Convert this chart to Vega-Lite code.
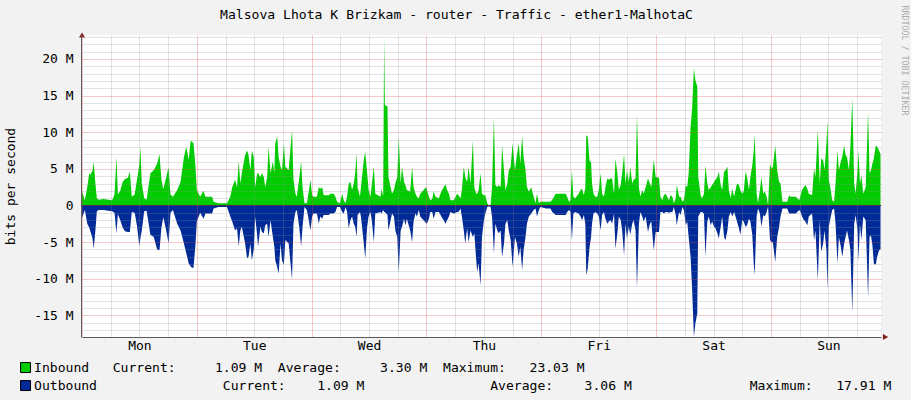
{
  "$schema": "https://vega.github.io/schema/vega-lite/v6.json",
  "width": 799,
  "height": 302,
  "autosize": {"type": "none"},
  "padding": {"left": 82, "top": 35, "right": 30, "bottom": 63},
  "background": "#F2F2F2",
  "config": {
    "view": {"fill": "#FFFFFF", "stroke": null},
    "font": "DejaVu Sans Mono",
    "axis": {"labelFont": "DejaVu Sans Mono", "titleFont": "DejaVu Sans Mono", "labelFontSize": 13, "labelColor": "#000000", "titleColor": "#000000", "titleFontWeight": "normal"}
  },
  "resolve": {"axis": {"x": "independent", "y": "independent"}},
  "layer": [
    {
      "data": {"values": [
        {"h":0,"Inbound":1.9,"Outbound":-1.7},{"h":0.6,"Inbound":0.7,"Outbound":-0.6},{"h":1.1,"Inbound":2.5,"Outbound":-2.5},{"h":1.5,"Inbound":4.4,"Outbound":-3.0},{"h":1.8,"Inbound":4.2,"Outbound":-3.6},{"h":2.2,"Inbound":4.8,"Outbound":-4.5},{"h":2.45,"Inbound":5.9,"Outbound":-5.9},{"h":2.8,"Inbound":3.0,"Outbound":-3.4},{"h":3.1,"Inbound":1.0,"Outbound":-0.8},{"h":3.5,"Inbound":0.8,"Outbound":-0.6},{"h":4.5,"Inbound":0.9,"Outbound":-0.6},{"h":5.5,"Inbound":0.8,"Outbound":-0.7},{"h":6.3,"Inbound":0.7,"Outbound":-0.8},{"h":6.8,"Inbound":1.5,"Outbound":-1.0},{"h":7.2,"Inbound":6.6,"Outbound":-3.8},{"h":7.5,"Inbound":1.5,"Outbound":-1.2},{"h":8.0,"Inbound":2.0,"Outbound":-2.0},{"h":8.5,"Inbound":3.2,"Outbound":-3.0},{"h":9.0,"Inbound":3.6,"Outbound":-3.5},{"h":9.6,"Inbound":3.8,"Outbound":-3.6},{"h":10.0,"Inbound":4.6,"Outbound":-3.6},{"h":10.4,"Inbound":1.2,"Outbound":-0.9},{"h":11.0,"Inbound":1.5,"Outbound":-1.0},{"h":11.5,"Inbound":3.5,"Outbound":-2.8},{"h":12.0,"Inbound":5.7,"Outbound":-5.6},{"h":12.2,"Inbound":8.0,"Outbound":-4.5},{"h":12.5,"Inbound":3.0,"Outbound":-3.4},{"h":13.0,"Inbound":1.0,"Outbound":-0.8},{"h":13.5,"Inbound":0.8,"Outbound":-0.7},{"h":14.3,"Inbound":4.4,"Outbound":-4.0},{"h":15.0,"Inbound":4.8,"Outbound":-4.3},{"h":15.7,"Inbound":5.7,"Outbound":-6.0},{"h":16.2,"Inbound":7.0,"Outbound":-6.1},{"h":16.6,"Inbound":3.5,"Outbound":-3.0},{"h":17.0,"Inbound":2.2,"Outbound":-1.6},{"h":17.6,"Inbound":3.9,"Outbound":-3.4},{"h":18.1,"Inbound":5.2,"Outbound":-5.2},{"h":18.5,"Inbound":1.5,"Outbound":-1.0},{"h":19.0,"Inbound":1.2,"Outbound":-0.6},{"h":19.9,"Inbound":2.1,"Outbound":-2.5},{"h":20.6,"Inbound":3.2,"Outbound":-3.4},{"h":21.3,"Inbound":6.6,"Outbound":-5.2},{"h":21.8,"Inbound":8.0,"Outbound":-6.5},{"h":22.3,"Inbound":6.2,"Outbound":-7.9},{"h":22.7,"Inbound":8.8,"Outbound":-8.3},{"h":23.0,"Inbound":8.7,"Outbound":-8.5},{"h":23.3,"Inbound":8.5,"Outbound":-8.5},{"h":23.7,"Inbound":5.5,"Outbound":-5.5},{"h":24.0,"Inbound":2.1,"Outbound":-2.2},{"h":24.7,"Inbound":1.2,"Outbound":-1.0},{"h":25.4,"Inbound":2.0,"Outbound":-1.8},{"h":25.8,"Inbound":1.2,"Outbound":-1.1},{"h":27.2,"Inbound":1.2,"Outbound":-1.1},{"h":27.5,"Inbound":0.5,"Outbound":-0.4},{"h":28.5,"Inbound":0.3,"Outbound":-0.2},{"h":30.3,"Inbound":0.3,"Outbound":-0.2},{"h":31.0,"Inbound":1.2,"Outbound":-1.5},{"h":31.4,"Inbound":2.5,"Outbound":-2.2},{"h":32.0,"Inbound":3.5,"Outbound":-3.4},{"h":32.4,"Inbound":2.5,"Outbound":-3.1},{"h":32.75,"Inbound":6.0,"Outbound":-5.6},{"h":33.1,"Inbound":3.0,"Outbound":-3.4},{"h":33.4,"Inbound":4.4,"Outbound":-2.9},{"h":34.1,"Inbound":6.9,"Outbound":-5.2},{"h":34.5,"Inbound":7.5,"Outbound":-7.2},{"h":34.8,"Inbound":6.9,"Outbound":-7.0},{"h":35.2,"Inbound":4.8,"Outbound":-5.2},{"h":35.5,"Inbound":7.5,"Outbound":-7.5},{"h":35.9,"Inbound":6.6,"Outbound":-6.0},{"h":36.2,"Inbound":2.5,"Outbound":-1.5},{"h":36.6,"Inbound":4.4,"Outbound":-4.0},{"h":36.8,"Inbound":4.4,"Outbound":-5.6},{"h":37.3,"Inbound":3.9,"Outbound":-2.9},{"h":37.6,"Inbound":4.4,"Outbound":-3.6},{"h":38.0,"Inbound":3.9,"Outbound":-3.8},{"h":38.3,"Inbound":2.5,"Outbound":-2.7},{"h":38.7,"Inbound":3.9,"Outbound":-2.5},{"h":39.0,"Inbound":8.0,"Outbound":-4.3},{"h":39.4,"Inbound":4.4,"Outbound":-2.0},{"h":39.9,"Inbound":6.0,"Outbound":-4.3},{"h":40.2,"Inbound":4.4,"Outbound":-5.6},{"h":40.4,"Inbound":8.5,"Outbound":-7.5},{"h":40.8,"Inbound":9.4,"Outbound":-8.4},{"h":41.1,"Inbound":6.6,"Outbound":-9.3},{"h":41.5,"Inbound":5.3,"Outbound":-5.2},{"h":41.8,"Inbound":4.8,"Outbound":-7.5},{"h":42.2,"Inbound":8.5,"Outbound":-8.1},{"h":42.5,"Inbound":5.3,"Outbound":-4.7},{"h":43.2,"Inbound":4.8,"Outbound":-5.2},{"h":43.9,"Inbound":10.3,"Outbound":-10.1},{"h":44.2,"Inbound":3.5,"Outbound":-2.5},{"h":44.6,"Inbound":1.6,"Outbound":-0.9},{"h":44.9,"Inbound":1.2,"Outbound":-0.6},{"h":45.4,"Inbound":3.7,"Outbound":-2.9},{"h":45.8,"Inbound":6.0,"Outbound":-5.6},{"h":46.1,"Inbound":2.5,"Outbound":-2.9},{"h":46.5,"Inbound":0.3,"Outbound":-0.2},{"h":47.0,"Inbound":0.3,"Outbound":-0.6},{"h":47.4,"Inbound":1.9,"Outbound":-2.0},{"h":47.75,"Inbound":3.5,"Outbound":-3.4},{"h":48.1,"Inbound":1.4,"Outbound":-1.5},{"h":48.4,"Inbound":1.2,"Outbound":-1.1},{"h":49.1,"Inbound":1.2,"Outbound":-1.1},{"h":49.5,"Inbound":2.5,"Outbound":-2.5},{"h":49.8,"Inbound":2.3,"Outbound":-1.5},{"h":50.2,"Inbound":2.5,"Outbound":-1.8},{"h":50.5,"Inbound":1.4,"Outbound":-1.3},{"h":51.6,"Inbound":1.4,"Outbound":-1.3},{"h":51.9,"Inbound":1.6,"Outbound":-1.1},{"h":52.6,"Inbound":1.6,"Outbound":-1.1},{"h":52.97,"Inbound":1.2,"Outbound":-0.9},{"h":53.3,"Inbound":0.5,"Outbound":-0.2},{"h":53.9,"Inbound":0.3,"Outbound":-0.2},{"h":54.4,"Inbound":1.6,"Outbound":-0.9},{"h":54.7,"Inbound":0.7,"Outbound":-1.1},{"h":55.1,"Inbound":0.3,"Outbound":-0.2},{"h":55.4,"Inbound":1.2,"Outbound":-0.9},{"h":55.75,"Inbound":3.0,"Outbound":-3.1},{"h":56.1,"Inbound":3.2,"Outbound":-2.0},{"h":56.45,"Inbound":2.1,"Outbound":-1.5},{"h":56.8,"Inbound":3.0,"Outbound":-2.5},{"h":57.1,"Inbound":4.4,"Outbound":-2.9},{"h":57.4,"Inbound":7.1,"Outbound":-4.3},{"h":57.6,"Inbound":2.5,"Outbound":-1.3},{"h":58.1,"Inbound":1.2,"Outbound":-0.9},{"h":58.3,"Inbound":2.5,"Outbound":-1.5},{"h":58.9,"Inbound":6.2,"Outbound":-5.2},{"h":59.2,"Inbound":7.3,"Outbound":-7.2},{"h":59.6,"Inbound":4.4,"Outbound":-2.9},{"h":59.9,"Inbound":2.1,"Outbound":-1.5},{"h":60.3,"Inbound":1.2,"Outbound":-0.9},{"h":60.6,"Inbound":3.0,"Outbound":-2.2},{"h":61.0,"Inbound":5.3,"Outbound":-5.0},{"h":61.3,"Inbound":1.6,"Outbound":-1.1},{"h":62.4,"Inbound":1.2,"Outbound":-0.9},{"h":62.6,"Inbound":2.3,"Outbound":-1.1},{"h":62.95,"Inbound":1.2,"Outbound":-0.6},{"h":63.15,"Inbound":23.03,"Outbound":-0.9},{"h":63.3,"Inbound":13.7,"Outbound":-0.9},{"h":63.85,"Inbound":13.5,"Outbound":-1.3},{"h":64.05,"Inbound":3.9,"Outbound":-3.4},{"h":64.5,"Inbound":2.5,"Outbound":-2.0},{"h":64.8,"Inbound":1.6,"Outbound":-1.1},{"h":65.2,"Inbound":2.1,"Outbound":-1.5},{"h":65.5,"Inbound":3.0,"Outbound":-3.4},{"h":65.9,"Inbound":3.9,"Outbound":-4.3},{"h":66.2,"Inbound":9.4,"Outbound":-9.2},{"h":66.6,"Inbound":3.0,"Outbound":-3.4},{"h":66.9,"Inbound":5.3,"Outbound":-2.9},{"h":67.3,"Inbound":3.2,"Outbound":-1.8},{"h":67.6,"Inbound":2.8,"Outbound":-2.7},{"h":67.9,"Inbound":2.1,"Outbound":-1.8},{"h":68.6,"Inbound":1.9,"Outbound":-3.4},{"h":69.0,"Inbound":5.3,"Outbound":-5.0},{"h":69.3,"Inbound":2.5,"Outbound":-2.2},{"h":69.7,"Inbound":1.6,"Outbound":-1.1},{"h":70.0,"Inbound":1.2,"Outbound":-1.5},{"h":70.4,"Inbound":1.0,"Outbound":-0.6},{"h":70.7,"Inbound":1.6,"Outbound":-1.5},{"h":71.4,"Inbound":2.1,"Outbound":-2.0},{"h":71.9,"Inbound":2.5,"Outbound":-2.4},{"h":72.1,"Inbound":2.1,"Outbound":-2.5},{"h":72.5,"Inbound":1.2,"Outbound":-1.8},{"h":72.8,"Inbound":0.7,"Outbound":-0.9},{"h":73.2,"Inbound":0.9,"Outbound":-0.9},{"h":73.5,"Inbound":1.9,"Outbound":-1.8},{"h":73.9,"Inbound":1.2,"Outbound":-0.9},{"h":74.6,"Inbound":1.0,"Outbound":-0.9},{"h":75.1,"Inbound":1.9,"Outbound":-1.5},{"h":75.6,"Inbound":2.5,"Outbound":-2.0},{"h":76.0,"Inbound":2.9,"Outbound":-2.5},{"h":76.3,"Inbound":2.1,"Outbound":-2.0},{"h":76.7,"Inbound":1.6,"Outbound":-1.5},{"h":77.0,"Inbound":0.7,"Outbound":-0.9},{"h":77.7,"Inbound":0.7,"Outbound":-1.1},{"h":78.4,"Inbound":1.6,"Outbound":-0.9},{"h":78.7,"Inbound":1.4,"Outbound":-0.9},{"h":79.1,"Inbound":1.0,"Outbound":-0.4},{"h":79.4,"Inbound":2.1,"Outbound":-1.5},{"h":79.8,"Inbound":5.3,"Outbound":-3.4},{"h":80.1,"Inbound":3.9,"Outbound":-5.2},{"h":80.5,"Inbound":3.2,"Outbound":-3.1},{"h":80.8,"Inbound":5.3,"Outbound":-5.0},{"h":81.2,"Inbound":3.0,"Outbound":-3.4},{"h":81.7,"Inbound":8.9,"Outbound":-4.3},{"h":82.0,"Inbound":2.5,"Outbound":-3.8},{"h":82.4,"Inbound":1.6,"Outbound":-7.5},{"h":82.6,"Inbound":1.6,"Outbound":-9.0},{"h":82.9,"Inbound":2.1,"Outbound":-7.9},{"h":83.3,"Inbound":4.4,"Outbound":-10.9},{"h":83.6,"Inbound":1.6,"Outbound":-4.3},{"h":84.0,"Inbound":1.4,"Outbound":-2.0},{"h":84.3,"Inbound":1.4,"Outbound":-1.1},{"h":84.7,"Inbound":0.3,"Outbound":-0.2},{"h":85.0,"Inbound":0.05,"Outbound":-0.1},{"h":85.4,"Inbound":0.05,"Outbound":-0.2},{"h":85.7,"Inbound":2.5,"Outbound":-1.5},{"h":86.1,"Inbound":12.0,"Outbound":-6.5},{"h":86.4,"Inbound":2.8,"Outbound":-2.5},{"h":86.8,"Inbound":2.5,"Outbound":-3.4},{"h":87.1,"Inbound":2.8,"Outbound":-3.8},{"h":87.5,"Inbound":2.5,"Outbound":-3.4},{"h":87.8,"Inbound":8.2,"Outbound":-7.0},{"h":88.2,"Inbound":4.8,"Outbound":-5.2},{"h":88.5,"Inbound":2.1,"Outbound":-2.5},{"h":88.9,"Inbound":3.0,"Outbound":-2.0},{"h":89.2,"Inbound":4.8,"Outbound":-3.4},{"h":89.6,"Inbound":5.3,"Outbound":-4.7},{"h":90.0,"Inbound":8.5,"Outbound":-8.4},{"h":90.5,"Inbound":4.8,"Outbound":-4.3},{"h":90.9,"Inbound":6.9,"Outbound":-5.2},{"h":91.3,"Inbound":8.5,"Outbound":-7.0},{"h":91.6,"Inbound":5.7,"Outbound":-5.6},{"h":92.0,"Inbound":9.4,"Outbound":-8.8},{"h":92.3,"Inbound":6.6,"Outbound":-6.1},{"h":92.7,"Inbound":4.8,"Outbound":-4.3},{"h":93.0,"Inbound":2.5,"Outbound":-2.5},{"h":93.4,"Inbound":1.9,"Outbound":-1.5},{"h":93.9,"Inbound":2.5,"Outbound":-1.1},{"h":94.4,"Inbound":1.2,"Outbound":-0.6},{"h":94.8,"Inbound":0.3,"Outbound":-0.4},{"h":95.1,"Inbound":1.6,"Outbound":-1.5},{"h":95.5,"Inbound":0.3,"Outbound":-0.6},{"h":95.8,"Inbound":0.5,"Outbound":-0.2},{"h":97.0,"Inbound":0.5,"Outbound":-0.4},{"h":97.9,"Inbound":0.5,"Outbound":-0.4},{"h":98.3,"Inbound":0.8,"Outbound":-0.9},{"h":99.0,"Inbound":1.6,"Outbound":-1.3},{"h":101.1,"Inbound":1.6,"Outbound":-1.3},{"h":101.4,"Inbound":1.2,"Outbound":-0.9},{"h":101.8,"Inbound":0.5,"Outbound":-0.6},{"h":102.1,"Inbound":0.7,"Outbound":-0.9},{"h":102.4,"Inbound":4.8,"Outbound":-4.7},{"h":102.7,"Inbound":1.2,"Outbound":-1.1},{"h":103.1,"Inbound":1.0,"Outbound":-0.9},{"h":103.8,"Inbound":1.6,"Outbound":-1.1},{"h":104.2,"Inbound":2.1,"Outbound":-1.5},{"h":104.5,"Inbound":2.3,"Outbound":-2.0},{"h":104.9,"Inbound":1.4,"Outbound":-1.3},{"h":105.2,"Inbound":2.5,"Outbound":-2.5},{"h":105.4,"Inbound":9.6,"Outbound":-9.5},{"h":105.7,"Inbound":9.4,"Outbound":-8.6},{"h":106.1,"Inbound":6.0,"Outbound":-5.6},{"h":106.4,"Inbound":6.0,"Outbound":-4.3},{"h":106.6,"Inbound":3.0,"Outbound":-2.5},{"h":106.9,"Inbound":1.6,"Outbound":-1.1},{"h":107.3,"Inbound":1.2,"Outbound":-0.9},{"h":107.7,"Inbound":1.2,"Outbound":-1.1},{"h":108.0,"Inbound":2.1,"Outbound":-1.5},{"h":108.4,"Inbound":4.4,"Outbound":-3.4},{"h":108.7,"Inbound":1.6,"Outbound":-1.3},{"h":109.1,"Inbound":1.2,"Outbound":-0.9},{"h":109.4,"Inbound":2.5,"Outbound":-1.8},{"h":109.8,"Inbound":3.7,"Outbound":-2.5},{"h":110.1,"Inbound":3.5,"Outbound":-2.2},{"h":110.5,"Inbound":3.7,"Outbound":-2.0},{"h":110.8,"Inbound":3.7,"Outbound":-2.5},{"h":111.2,"Inbound":1.6,"Outbound":-1.1},{"h":111.5,"Inbound":6.4,"Outbound":-5.9},{"h":111.9,"Inbound":4.4,"Outbound":-3.8},{"h":112.2,"Inbound":2.1,"Outbound":-1.5},{"h":112.6,"Inbound":2.8,"Outbound":-2.0},{"h":112.9,"Inbound":4.4,"Outbound":-3.4},{"h":113.3,"Inbound":7.0,"Outbound":-6.8},{"h":113.6,"Inbound":3.0,"Outbound":-2.5},{"h":113.9,"Inbound":4.8,"Outbound":-4.5},{"h":114.3,"Inbound":3.2,"Outbound":-2.9},{"h":114.6,"Inbound":5.3,"Outbound":-4.0},{"h":115.0,"Inbound":3.0,"Outbound":-2.5},{"h":115.3,"Inbound":3.5,"Outbound":-2.0},{"h":115.7,"Inbound":3.7,"Outbound":-3.4},{"h":116.0,"Inbound":12.3,"Outbound":-11.3},{"h":116.4,"Inbound":2.5,"Outbound":-2.5},{"h":116.7,"Inbound":1.2,"Outbound":-0.9},{"h":117.1,"Inbound":2.1,"Outbound":-1.5},{"h":117.4,"Inbound":1.6,"Outbound":-2.2},{"h":117.8,"Inbound":2.5,"Outbound":-1.5},{"h":118.3,"Inbound":3.7,"Outbound":-3.6},{"h":118.7,"Inbound":3.0,"Outbound":-2.5},{"h":119.0,"Inbound":2.5,"Outbound":-2.2},{"h":119.5,"Inbound":6.2,"Outbound":-6.1},{"h":119.9,"Inbound":3.9,"Outbound":-3.6},{"h":120.6,"Inbound":3.8,"Outbound":-3.6},{"h":120.9,"Inbound":1.2,"Outbound":-0.9},{"h":121.3,"Inbound":0.7,"Outbound":-0.9},{"h":121.6,"Inbound":1.4,"Outbound":-1.1},{"h":122.0,"Inbound":1.6,"Outbound":-0.9},{"h":122.3,"Inbound":1.2,"Outbound":-0.9},{"h":122.7,"Inbound":0.7,"Outbound":-1.0},{"h":123.0,"Inbound":1.4,"Outbound":-0.9},{"h":123.4,"Inbound":1.2,"Outbound":-0.9},{"h":123.7,"Inbound":0.3,"Outbound":-0.2},{"h":124.1,"Inbound":1.0,"Outbound":-1.3},{"h":124.3,"Inbound":2.8,"Outbound":-2.7},{"h":124.8,"Inbound":1.2,"Outbound":-0.9},{"h":125.1,"Inbound":1.2,"Outbound":-1.3},{"h":125.5,"Inbound":0.5,"Outbound":-0.2},{"h":125.8,"Inbound":0.7,"Outbound":-0.6},{"h":126.2,"Inbound":2.8,"Outbound":-2.7},{"h":126.5,"Inbound":2.5,"Outbound":-2.2},{"h":126.8,"Inbound":4.4,"Outbound":-4.3},{"h":127.2,"Inbound":10.7,"Outbound":-7.0},{"h":127.5,"Inbound":13.0,"Outbound":-11.1},{"h":127.9,"Inbound":18.7,"Outbound":-17.91},{"h":128.2,"Inbound":17.1,"Outbound":-16.1},{"h":128.6,"Inbound":16.2,"Outbound":-14.7},{"h":128.8,"Inbound":3.9,"Outbound":-1.5},{"h":129.3,"Inbound":1.4,"Outbound":-0.9},{"h":129.6,"Inbound":1.0,"Outbound":-0.9},{"h":130.0,"Inbound":1.6,"Outbound":-1.1},{"h":130.3,"Inbound":5.5,"Outbound":-7.0},{"h":130.7,"Inbound":3.0,"Outbound":-2.2},{"h":131.0,"Inbound":2.1,"Outbound":-1.5},{"h":131.4,"Inbound":2.5,"Outbound":-2.7},{"h":131.7,"Inbound":2.8,"Outbound":-2.2},{"h":132.1,"Inbound":3.2,"Outbound":-2.9},{"h":132.4,"Inbound":3.5,"Outbound":-3.1},{"h":132.8,"Inbound":3.9,"Outbound":-3.8},{"h":133.1,"Inbound":4.6,"Outbound":-4.5},{"h":133.5,"Inbound":2.8,"Outbound":-2.9},{"h":133.8,"Inbound":2.1,"Outbound":-1.5},{"h":134.2,"Inbound":4.6,"Outbound":-4.3},{"h":134.5,"Inbound":4.8,"Outbound":-4.7},{"h":134.9,"Inbound":5.3,"Outbound":-3.4},{"h":135.2,"Inbound":2.1,"Outbound":-1.5},{"h":135.6,"Inbound":1.0,"Outbound":-0.9},{"h":135.9,"Inbound":2.3,"Outbound":-1.5},{"h":136.3,"Inbound":1.2,"Outbound":-0.9},{"h":136.6,"Inbound":2.1,"Outbound":-1.5},{"h":136.9,"Inbound":3.0,"Outbound":-2.2},{"h":137.3,"Inbound":2.8,"Outbound":-3.1},{"h":137.6,"Inbound":2.1,"Outbound":-4.0},{"h":138.0,"Inbound":1.6,"Outbound":-2.0},{"h":138.3,"Inbound":1.9,"Outbound":-2.2},{"h":138.7,"Inbound":4.6,"Outbound":-2.9},{"h":139.0,"Inbound":3.9,"Outbound":-2.7},{"h":139.4,"Inbound":2.1,"Outbound":-1.8},{"h":139.7,"Inbound":3.9,"Outbound":-2.2},{"h":140.1,"Inbound":5.5,"Outbound":-4.0},{"h":140.4,"Inbound":7.5,"Outbound":-7.9},{"h":140.6,"Inbound":9.7,"Outbound":-9.5},{"h":141.0,"Inbound":1.6,"Outbound":-1.5},{"h":141.3,"Inbound":0.3,"Outbound":-0.4},{"h":141.7,"Inbound":2.1,"Outbound":-1.1},{"h":142.0,"Inbound":3.9,"Outbound":-2.9},{"h":142.4,"Inbound":1.6,"Outbound":-1.3},{"h":142.7,"Inbound":1.9,"Outbound":-1.5},{"h":143.1,"Inbound":1.2,"Outbound":-0.9},{"h":143.4,"Inbound":0.05,"Outbound":-0.1},{"h":143.8,"Inbound":5.7,"Outbound":-4.7},{"h":144.1,"Inbound":5.0,"Outbound":-5.0},{"h":144.4,"Inbound":5.3,"Outbound":-5.0},{"h":144.9,"Inbound":8.2,"Outbound":-7.7},{"h":145.3,"Inbound":4.8,"Outbound":-4.3},{"h":145.7,"Inbound":3.2,"Outbound":-2.9},{"h":146.0,"Inbound":3.0,"Outbound":-1.5},{"h":146.4,"Inbound":0.5,"Outbound":-0.4},{"h":147.4,"Inbound":0.5,"Outbound":-0.4},{"h":147.8,"Inbound":1.4,"Outbound":-1.1},{"h":148.1,"Inbound":1.2,"Outbound":-1.1},{"h":149.2,"Inbound":1.2,"Outbound":-1.1},{"h":149.5,"Inbound":1.0,"Outbound":-0.9},{"h":149.9,"Inbound":0.7,"Outbound":-0.6},{"h":150.2,"Inbound":1.4,"Outbound":-0.9},{"h":150.5,"Inbound":2.1,"Outbound":-1.5},{"h":150.9,"Inbound":2.5,"Outbound":-2.0},{"h":151.2,"Inbound":2.8,"Outbound":-2.2},{"h":151.6,"Inbound":2.3,"Outbound":-2.7},{"h":151.9,"Inbound":1.6,"Outbound":-1.5},{"h":152.6,"Inbound":1.4,"Outbound":-1.1},{"h":153.0,"Inbound":5.0,"Outbound":-4.7},{"h":153.3,"Inbound":3.9,"Outbound":-3.4},{"h":153.8,"Inbound":10.3,"Outbound":-10.2},{"h":154.2,"Inbound":3.0,"Outbound":-2.0},{"h":154.5,"Inbound":6.4,"Outbound":-6.3},{"h":154.9,"Inbound":6.2,"Outbound":-5.2},{"h":155.2,"Inbound":4.8,"Outbound":-3.4},{"h":155.6,"Inbound":8.5,"Outbound":-6.1},{"h":155.8,"Inbound":11.6,"Outbound":-11.5},{"h":156.1,"Inbound":3.5,"Outbound":-2.9},{"h":156.5,"Inbound":2.1,"Outbound":-1.5},{"h":156.8,"Inbound":0.7,"Outbound":-0.6},{"h":157.2,"Inbound":0.5,"Outbound":-0.4},{"h":157.5,"Inbound":3.0,"Outbound":-2.5},{"h":157.9,"Inbound":7.5,"Outbound":-7.9},{"h":158.2,"Inbound":4.8,"Outbound":-4.3},{"h":158.6,"Inbound":6.0,"Outbound":-5.6},{"h":158.9,"Inbound":6.6,"Outbound":-7.0},{"h":159.3,"Inbound":8.2,"Outbound":-5.2},{"h":159.6,"Inbound":6.9,"Outbound":-4.3},{"h":159.9,"Inbound":6.6,"Outbound":-3.4},{"h":160.3,"Inbound":4.8,"Outbound":-4.7},{"h":160.6,"Inbound":8.0,"Outbound":-6.1},{"h":161.0,"Inbound":14.6,"Outbound":-14.6},{"h":161.4,"Inbound":3.0,"Outbound":-2.5},{"h":161.7,"Inbound":1.6,"Outbound":-1.3},{"h":162.1,"Inbound":4.8,"Outbound":-3.4},{"h":162.3,"Inbound":7.5,"Outbound":-7.5},{"h":162.6,"Inbound":3.0,"Outbound":-2.5},{"h":162.9,"Inbound":4.1,"Outbound":-4.7},{"h":163.3,"Inbound":1.6,"Outbound":-1.5},{"h":163.8,"Inbound":2.5,"Outbound":-2.0},{"h":164.3,"Inbound":12.8,"Outbound":-12.5},{"h":164.6,"Inbound":4.4,"Outbound":-4.3},{"h":164.9,"Inbound":4.8,"Outbound":-4.1},{"h":165.2,"Inbound":5.7,"Outbound":-5.4},{"h":165.5,"Inbound":6.4,"Outbound":-7.9},{"h":165.9,"Inbound":8.2,"Outbound":-8.1},{"h":166.2,"Inbound":8.0,"Outbound":-7.0},{"h":166.6,"Inbound":7.5,"Outbound":-6.1},{"h":166.9,"Inbound":7.0,"Outbound":-6.0}
      ]},
      "transform": [{"fold": ["Inbound", "Outbound"], "as": ["series", "v"]}],
      "mark": {"type": "area", "interpolate": "linear"},
      "encoding": {
        "x": {
          "field": "h", "type": "quantitative",
          "scale": {"domain": [0, 167], "nice": false, "zero": false},
          "axis": {"orient": "bottom", "values": [12, 36, 60, 84, 108, 132, 156],
            "labelExpr": "['Mon','Tue','Wed','Thu','Fri','Sat','Sun'][floor(datum.value / 24)]",
            "grid": false, "ticks": false, "domain": true, "domainColor": "#5A5A5A", "domainWidth": 1,
            "labelPadding": 2, "labelFlush": false, "labelOverlap": false, "title": null, "zindex": 2}
        },
        "y": {
          "field": "v", "type": "quantitative", "stack": null,
          "scale": {"domain": [-17.94, 23.26], "nice": false, "zero": false},
          "axis": {"orient": "left", "values": [-15, -10, -5, 0, 5, 10, 15, 20],
            "labelExpr": "datum.value == 0 ? '0' : datum.value + ' M'",
            "grid": false, "ticks": false, "domain": true, "domainColor": "#5A5A5A", "domainWidth": 1, "offset": 1,
            "labelPadding": 8, "labelOverlap": false, "labelFlush": false,
            "title": "bits per second", "titleFontSize": 13, "titleAngle": -90, "titleX": -71, "titleY": 151,
            "titleAlign": "center", "titleBaseline": "middle", "zindex": 2}
        },
        "y2": {"datum": 0},
        "color": {
          "field": "series", "type": "nominal",
          "scale": {"domain": ["Inbound", "Outbound"], "range": ["#00CC00", "#002A97"]},
          "legend": {
            "orient": "none", "legendX": -63, "legendY": 326, "direction": "vertical", "title": null,
            "symbolType": "square", "symbolSize": 100, "symbolStrokeColor": "#000000", "symbolStrokeWidth": 1, "symbolOpacity": 1,
            "labelFont": "DejaVu Sans Mono", "labelFontSize": 13.07, "labelColor": "#000000", "labelLimit": 2000,
            "labelOffset": 2, "rowPadding": 3, "padding": 0,
            "labelExpr": "datum.label == 'Inbound' ? 'Inbound\u00a0\u00a0\u00a0Current:\u00a0\u00a0\u00a0\u00a0\u00a01.09\u00a0M\u00a0\u00a0Average:\u00a0\u00a0\u00a0\u00a0\u00a03.30\u00a0M\u00a0\u00a0Maximum:\u00a0\u00a0\u00a023.03\u00a0M' : 'Outbound\u00a0\u00a0\u00a0\u00a0\u00a0\u00a0\u00a0\u00a0\u00a0\u00a0\u00a0\u00a0\u00a0\u00a0\u00a0\u00a0Current:\u00a0\u00a0\u00a0\u00a01.09\u00a0M\u00a0\u00a0\u00a0\u00a0\u00a0\u00a0\u00a0\u00a0\u00a0\u00a0\u00a0\u00a0\u00a0\u00a0\u00a0\u00a0Average:\u00a0\u00a0\u00a0\u00a03.06\u00a0M\u00a0\u00a0\u00a0\u00a0\u00a0\u00a0\u00a0\u00a0\u00a0\u00a0\u00a0\u00a0\u00a0\u00a0\u00a0Maximum:\u00a0\u00a0\u00a017.91\u00a0M'",
            "encode": {"symbols": {"update": {"stroke": {"value": "#000000"}, "strokeWidth": {"value": 1}}}}
          }
        }
      }
    },
    {
      "data": {"values": [{}]},
      "mark": {"type": "rule", "color": "#141E50", "strokeWidth": 1},
      "encoding": {
        "y": {"datum": 0, "type": "quantitative",
          "scale": {"domain": [-17.94, 23.26], "nice": false, "zero": false},
          "axis": {"orient": "left", "values": [-17,-16,-14,-13,-12,-11,-9,-8,-7,-6,-4,-3,-2,-1,1,2,3,4,6,7,8,9,11,12,13,14,16,17,18,19,21,22,23],
            "grid": true, "gridColor": "#8F8F8F", "gridOpacity": 0.5, "gridDash": [1, 1], "gridWidth": 1,
            "labels": false, "ticks": false, "domain": false, "title": null, "zindex": 1}}
      }
    },
    {
      "data": {"values": [{}]},
      "mark": {"type": "point", "shape": "triangle-up", "size": 36, "filled": true, "color": "#801F1F", "opacity": 1, "clip": false},
      "encoding": {
        "x": {"datum": 0, "type": "quantitative",
          "scale": {"domain": [0, 167], "nice": false, "zero": false},
          "axis": {"orient": "bottom", "values": [0, 24, 48, 72, 96, 120, 144],
            "grid": true, "gridColor": "#DE4F4F", "gridOpacity": 0.6, "gridDash": [1, 1], "gridWidth": 1,
            "labels": false, "ticks": false, "domain": false, "title": null, "zindex": 1}},
        "y": {"datum": 23.26, "type": "quantitative",
          "scale": {"domain": [-17.94, 23.26], "nice": false, "zero": false},
          "axis": {"orient": "left", "values": [-15, -10, -5, 0, 5, 10, 15, 20],
            "grid": true, "gridColor": "#DE4F4F", "gridOpacity": 0.6, "gridDash": [1, 1], "gridWidth": 1,
            "labels": false, "ticks": false, "domain": false, "title": null, "zindex": 1}}
      }
    },
    {
      "data": {"values": [{}]},
      "mark": {"type": "point", "shape": "triangle-right", "size": 36, "filled": true, "color": "#801F1F", "opacity": 1, "clip": false},
      "encoding": {
        "x": {"datum": 167.95, "type": "quantitative",
          "scale": {"domain": [0, 167], "nice": false, "zero": false},
          "axis": {"orient": "bottom", "values": [6,12,18,30,36,42,54,60,66,78,84,90,102,108,114,126,132,138,150,156,162],
            "grid": true, "gridColor": "#8F8F8F", "gridOpacity": 0.5, "gridDash": [1, 1], "gridWidth": 1,
            "labels": false, "ticks": false, "domain": false, "title": null, "zindex": 1}},
        "y": {"datum": -17.94, "type": "quantitative",
          "scale": {"domain": [-17.94, 23.26], "nice": false, "zero": false},
          "axis": {"orient": "right", "values": [], "grid": false, "labels": false, "ticks": false, "domain": false,
            "title": "RRDTOOL / TOBI OETIKER", "titleFont": "DejaVu Sans Mono", "titleFontSize": 8.3, "titleColor": "#ABABAB",
            "titleFontWeight": "normal", "titleAngle": 90, "titleX": 22, "titleY": 25, "titleAlign": "center", "titleBaseline": "middle", "zindex": 1}}
      }
    },
    {
      "data": {"values": [{}]},
      "mark": {"type": "point", "opacity": 0, "clip": false},
      "encoding": {
        "x": {"datum": 0, "type": "quantitative",
          "scale": {"domain": [0, 167], "nice": false, "zero": false},
          "axis": {"orient": "top", "values": [], "grid": false, "labels": false, "ticks": false, "domain": false,
            "title": "Malsova Lhota K Brizkam - router - Traffic - ether1-MalhotaC",
            "titleFont": "DejaVu Sans Mono", "titleFontSize": 13.1, "titleColor": "#000000", "titleFontWeight": "normal",
            "titleX": 374, "titleY": -16.5, "titleAlign": "center", "titleBaseline": "alphabetic", "zindex": 1}},
        "y": {"datum": 0, "type": "quantitative",
          "scale": {"domain": [-17.94, 23.26], "nice": false, "zero": false},
          "axis": null}
      }
    }
  ]
}
